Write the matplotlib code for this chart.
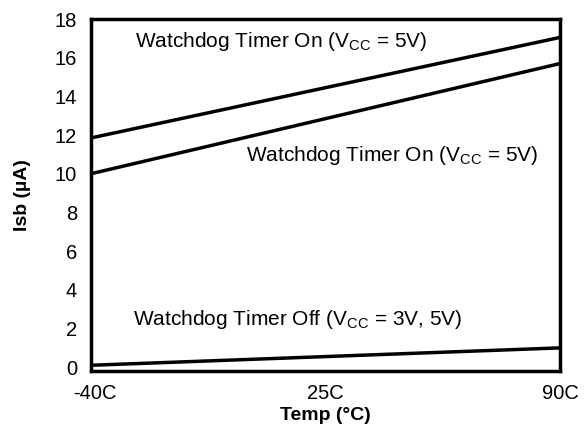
import matplotlib
matplotlib.use('Agg')
import matplotlib.pyplot as plt

# standby current vs temperature
temps = [-40, 90]
wdt_on_upper = [11.85, 17.05]
wdt_on_lower = [10.0, 15.7]
wdt_off = [0.1, 1.0]

tick_labels = ['-40C', '25C', '90C']
tick_pos = [-39, 25, 90]
y_ticks = [0, 2, 4, 6, 8, 10, 12, 14, 16, 18]

plt.rcParams['font.family'] = ['Liberation Sans', 'DejaVu Sans']
plt.rcParams['mathtext.fontset'] = 'custom'
plt.rcParams['mathtext.rm'] = 'Liberation Sans'

fig = plt.figure(figsize=(5.86, 4.32), dpi=100)
ax = fig.add_axes([0.155, 0.141, 0.801, 0.815])

for y in (wdt_on_upper, wdt_on_lower, wdt_off):
    ax.plot(temps, y, color='black', linewidth=2.5, solid_capstyle='butt')

ax.set_xlim(-40, 90)
ax.set_ylim(-0.2, 18)
ax.set_xticks(tick_pos)
ax.set_xticklabels(tick_labels)
ax.set_yticks(y_ticks)
ax.tick_params(length=0, labelsize=14.5)
ax.tick_params(axis='y', pad=10)
ax.tick_params(axis='x', pad=9)
for s in ax.spines.values():
    s.set_linewidth(2.5)

ax.set_xlabel('Temp (°C)', fontsize=14, fontweight='bold', labelpad=3)
ax.set_ylabel('Isb (µA)', fontsize=14, fontweight='bold', labelpad=17)

txt = 15
ax.text(-27.8, 16.85, r'Watchdog Timer On (V$_{\mathregular{CC}}$ = 5V)', fontsize=txt, va='center')
ax.text(3.0, 10.95, r'Watchdog Timer On (V$_{\mathregular{CC}}$ = 5V)', fontsize=txt, va='center')
ax.text(-28.4, 2.45, r'Watchdog Timer Off (V$_{\mathregular{CC}}$ = 3V, 5V)', fontsize=txt, va='center')

fig.savefig('out.png', dpi=100)
